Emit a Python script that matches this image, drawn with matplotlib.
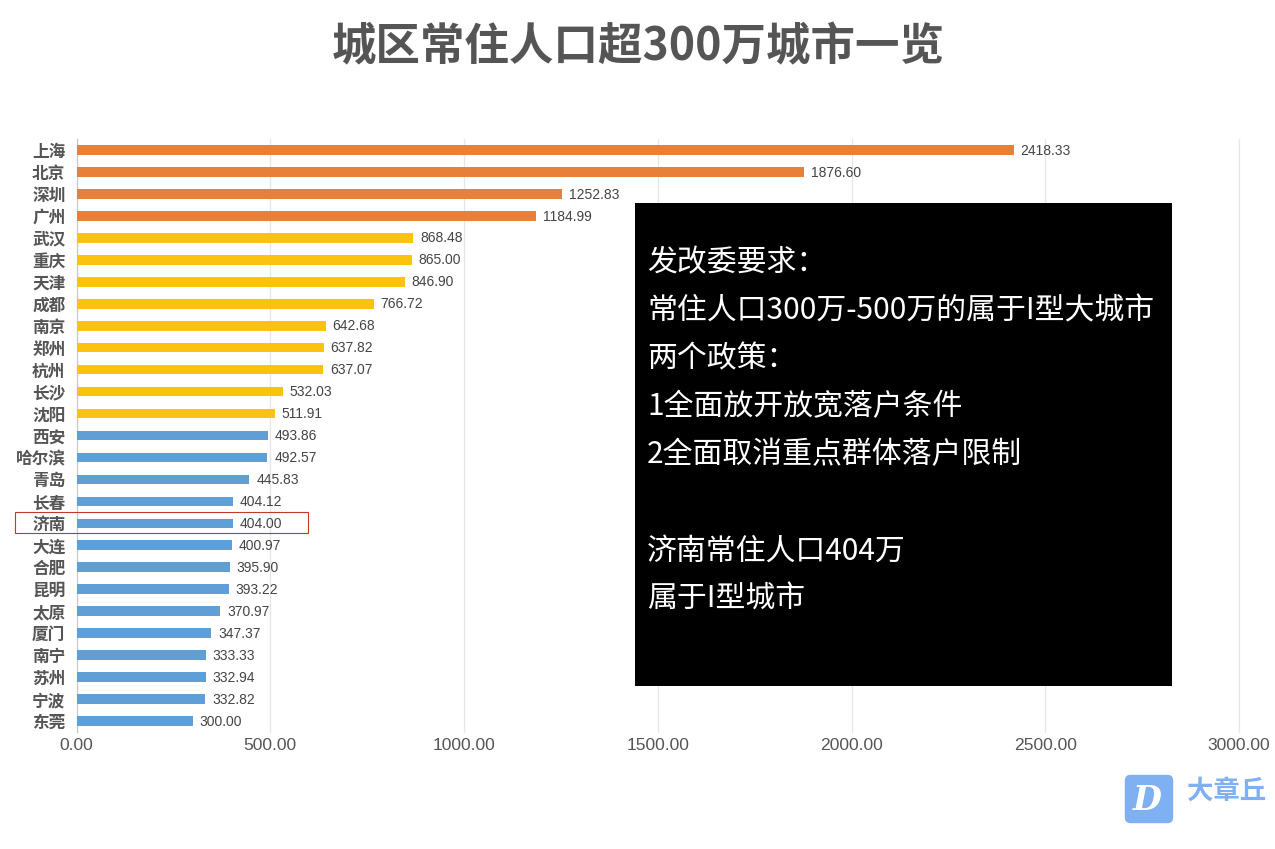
import matplotlib
matplotlib.use("Agg")
import matplotlib.pyplot as plt
from matplotlib.patches import Rectangle, FancyBboxPatch

plt.rcParams['font.family'] = ['Noto Sans CJK SC', 'DejaVu Sans']

cities = ["上海","北京","深圳","广州","武汉","重庆","天津","成都","南京","郑州","杭州","长沙","沈阳",
          "西安","哈尔滨","青岛","长春","济南","大连","合肥","昆明","太原","厦门","南宁","苏州","宁波","东莞"]
values = [2418.33,1876.60,1252.83,1184.99,868.48,865.00,846.90,766.72,642.68,637.82,637.07,532.03,511.91,
          493.86,492.57,445.83,404.12,404.00,400.97,395.90,393.22,370.97,347.37,333.33,332.94,332.82,300.00]
tiers = [0]*4 + [1]*9 + [2]*14
tier_colors = ["#E8803A", "#FBC20F", "#5F9FD6"]
xticks = [0,500,1000,1500,2000,2500,3000]
title = "城区常住人口超300万城市一览"
note_lines = ["发改委要求：","常住人口300万-500万的属于I型大城市","两个政策：","1全面放开放宽落户条件",
              "2全面取消重点群体落户限制","","济南常住人口404万","属于I型城市"]

W, H = 1275, 849
fig = plt.figure(figsize=(W/100, H/100), dpi=100, facecolor="white")
ax = fig.add_axes([76.5/W, 1-732/H, (1239-76.5)/W, (732-139)/H])
ax.set_xlim(0, 3000)
ax.set_ylim(len(cities)-0.5, -0.5)
ypos = list(range(len(cities)))
ax.barh(ypos, values, height=0.44, color=[tier_colors[t] for t in tiers], zorder=3)
for y, v in zip(ypos, values):
    ax.text(v+18, y+0.03, f"{v:.2f}", va="center", ha="left", fontsize=10, color="#444444",
            family="Liberation Sans", zorder=4)
ax.set_yticks(ypos, cities, fontsize=12, fontweight="bold", color="#555555")
ax.set_xticks(xticks, [f"{t:.2f}" for t in xticks], fontsize=12.6, color="#555555", family="Liberation Sans")
ax.tick_params(axis="x", length=0, pad=4)
ax.tick_params(axis="y", length=0, pad=8)
ax.grid(axis="x", color="#E6E6E6", lw=0.9, zorder=0)
for line in ax.get_xgridlines():
    line.set_clip_on(False)
ax.set_axisbelow(True)
for s in ["top", "right", "bottom"]:
    ax.spines[s].set_visible(False)
ax.spines["left"].set_color("#C8C8C8")

ov = fig.add_axes([0, 0, 1, 1], facecolor="none")
ov.set_xlim(0, W); ov.set_ylim(H, 0); ov.axis("off")
ov.text(638, 47, title, ha="center", va="center", fontsize=32, fontweight="bold", color="#555555")
ov.add_patch(Rectangle((15, 512), 293, 21, fill=False, ec="#C0392B", lw=0.8))
ov.add_patch(Rectangle((635, 203), 537, 483, fc="black", ec="none"))
for i, line in enumerate(note_lines):
    ov.text(647, 263+48*i, line, ha="left", va="center", fontsize=21.5, color="white")
ov.add_patch(FancyBboxPatch((1125.5, 775.5), 47, 47, boxstyle="round,pad=0,rounding_size=5", fc="#7FB0F2", ec="#7FB0F2", lw=1))
ov.text(1147, 801, "D", ha="center", va="center", fontsize=24, fontweight="bold", style="italic", color="white", family="DejaVu Serif")
ov.text(1187, 791, "大章丘", ha="left", va="center", fontsize=19, fontweight="bold", color="#7FB0F2")

fig.savefig("out.png", dpi=100)
